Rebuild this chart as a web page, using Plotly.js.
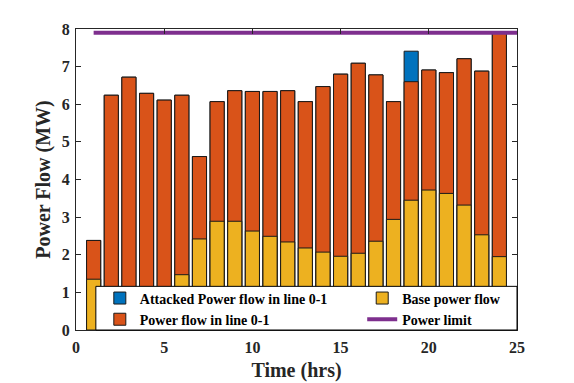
<!DOCTYPE html>
<html>
<head>
<meta charset="utf-8">
<script src="https://cdn.plot.ly/plotly-3.0.1.min.js"></script>
<style>
  html, body { margin: 0; padding: 0; background: #fff; }
  #chart { width: 574px; height: 383px; }
</style>
</head>
<body>
<div id="chart"></div>
<script>
// hourly values
var hours = [1, 2, 3, 4, 5, 6, 7, 8, 9, 10, 11, 12, 13, 14, 15, 16, 17, 18, 19, 20, 21, 22, 23, 24];
var attackedFlow = [2.38, 6.24, 6.72, 6.29, 6.11, 6.24, 4.61, 6.07, 6.36, 6.34, 6.34, 6.36,
                    6.07, 6.47, 6.80, 7.09, 6.78, 6.07, 7.41, 6.91, 6.84, 7.21, 6.88, 7.90];
var lineFlow = [2.38, 6.24, 6.72, 6.29, 6.11, 6.24, 4.61, 6.07, 6.36, 6.34, 6.34, 6.36,
                6.07, 6.47, 6.80, 7.09, 6.78, 6.07, 6.60, 6.91, 6.84, 7.21, 6.88, 7.90];
var baseFlow = [1.35, 1.00, 1.00, 1.00, 1.00, 1.47, 2.42, 2.89, 2.89, 2.63, 2.49, 2.34,
                2.18, 2.07, 1.96, 2.04, 2.36, 2.94, 3.45, 3.72, 3.63, 3.32, 2.53, 1.95];
var limitX = [1, 25];
var limitY = [7.9, 7.9];

var serif = 'Liberation Serif, Times New Roman, serif';
var edge = {color: '#1a1a1a', width: 1};

var data = [
    {
        x: hours, y: attackedFlow, type: 'bar', width: 0.8,
        name: 'Attacked Power flow in line 0-1',
        marker: {color: '#0072BD', line: edge},
        legend: 'legend'
    },
    {
        x: hours, y: lineFlow, type: 'bar', width: 0.8,
        name: 'Power flow in line 0-1',
        marker: {color: '#D95319', line: edge},
        legend: 'legend'
    },
    {
        x: hours, y: baseFlow, type: 'bar', width: 0.8,
        name: 'Base power flow',
        marker: {color: '#EDB120', line: edge},
        legend: 'legend2'
    },
    {
        x: limitX, y: limitY, type: 'scatter', mode: 'lines',
        name: 'Power limit',
        line: {color: '#7E2F8E', width: 4},
        legend: 'legend2'
    }
];

var tickFont = {family: serif, size: 16, color: '#262626', weight: 'bold'};
var titleFont = {family: serif, size: 20, color: '#262626', weight: 'bold'};
var legFont = {family: serif, size: 14, color: '#000', weight: 'bold'};

var layout = {
    width: 574, height: 383,
    margin: {l: 76, r: 57, t: 29, b: 53},
    paper_bgcolor: '#fff', plot_bgcolor: '#fff',
    barmode: 'overlay',
    bargap: 0,
    showlegend: true,
    xaxis: {
        range: [0, 25], tickvals: [0, 5, 10, 15, 20, 25],
        ticks: 'inside', ticklen: 5, tickcolor: '#262626',
        showline: true, linecolor: '#262626', linewidth: 1, mirror: 'ticks',
        showgrid: false, zeroline: false,
        tickfont: tickFont, ticklabelstandoff: 3,
        title: {text: 'Time (hrs)', font: titleFont, standoff: 7}
    },
    yaxis: {
        range: [0, 8], dtick: 1,
        ticks: 'inside', ticklen: 5, tickcolor: '#262626',
        showline: true, linecolor: '#262626', linewidth: 1, mirror: 'ticks',
        showgrid: false, zeroline: false,
        tickfont: tickFont, ticklabelstandoff: 2,
        title: {text: 'Power Flow (MW)', font: titleFont, standoff: 5}
    },
    legend: {
        x: 0.054, y: 0.158, xanchor: 'left', yanchor: 'top',
        bgcolor: 'rgba(0,0,0,0)', borderwidth: 0,
        font: legFont, orientation: 'v', itemwidth: 30
    },
    legend2: {
        x: 0.649, y: 0.158, xanchor: 'left', yanchor: 'top',
        bgcolor: 'rgba(0,0,0,0)', borderwidth: 0,
        font: legFont, orientation: 'v', itemwidth: 30
    },
    shapes: [
        {
            type: 'rect', xref: 'paper', yref: 'paper', layer: 'above',
            x0: 0.045, x1: 1.0, y0: 0, y1: 0.145,
            fillcolor: '#fff', line: {color: '#000', width: 1}
        }
    ]
};

Plotly.newPlot('chart', data, layout, {displayModeBar: false, staticPlot: true});
</script>
</body>
</html>
